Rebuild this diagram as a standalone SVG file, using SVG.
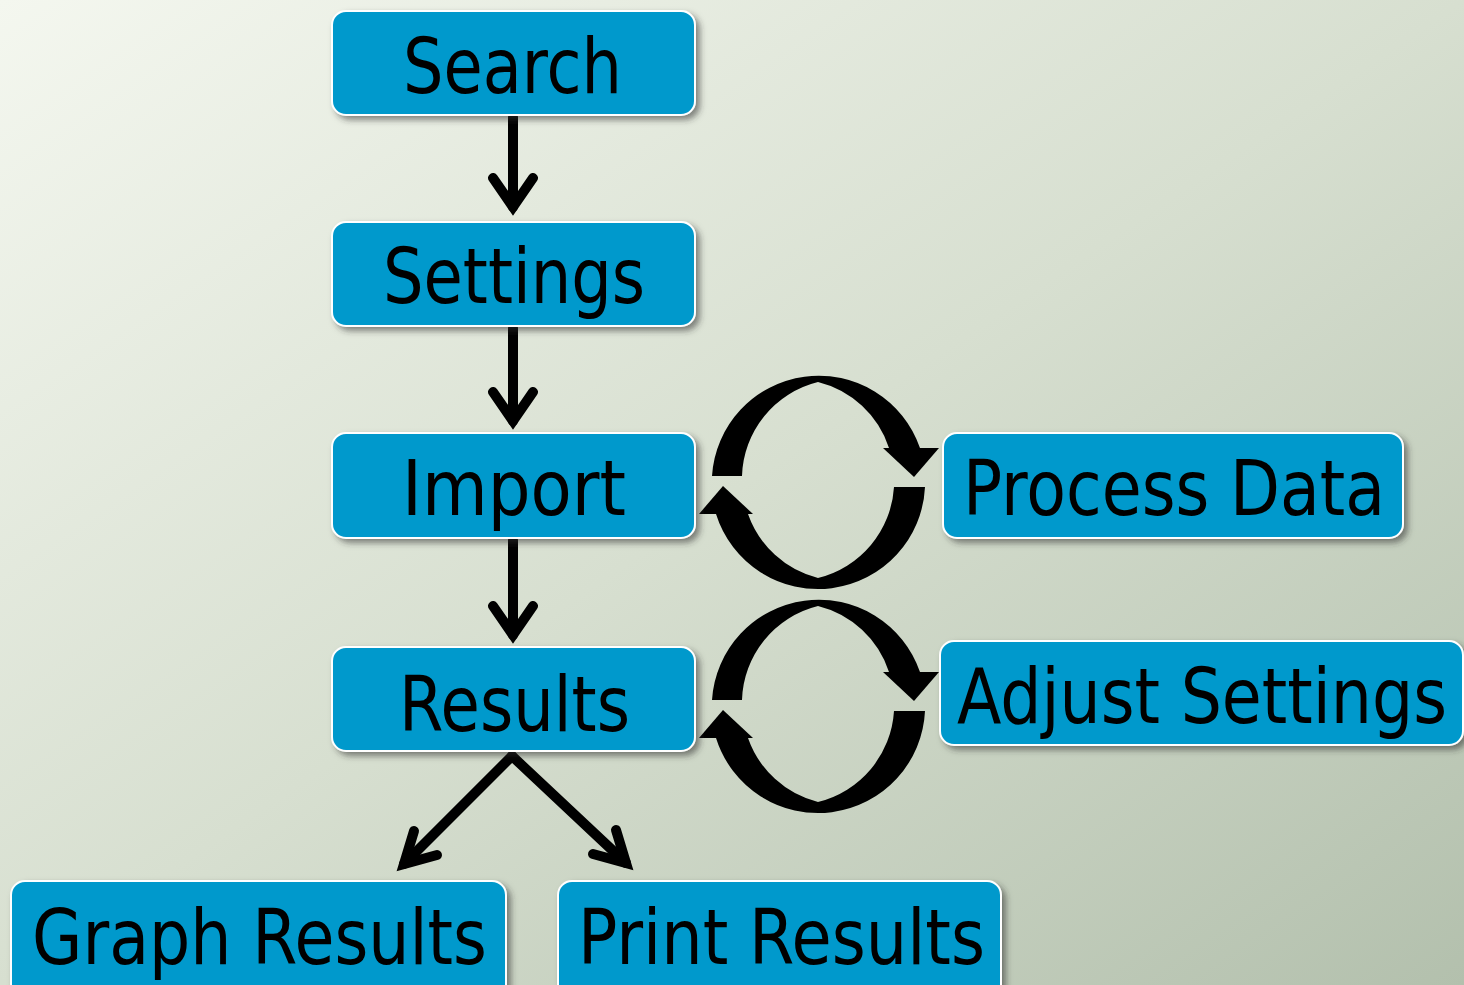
<svg xmlns="http://www.w3.org/2000/svg" width="1464" height="985" viewBox="0 0 1464 985">
<defs>
<linearGradient id="bg" x1="0" y1="0" x2="1" y2="1">
<stop offset="0" stop-color="#f4f7ef"/>
<stop offset="0.5" stop-color="#d7dfd0"/>
<stop offset="1" stop-color="#b3c0ad"/>
</linearGradient>
<filter id="sh" x="-10%" y="-20%" width="120%" height="150%">
<feDropShadow dx="4" dy="4" stdDeviation="3" flood-color="#333" flood-opacity="0.55"/>
</filter>
<g id="cycle">
<path d="M 712 476 A 107 107 0 0 1 920 448 L 889 448 A 100 100 0 0 0 818 382 A 100 100 0 0 0 742 476 Z"/>
<polygon points="883,448 939,448 914,477"/>
<path d="M 925 487 A 107 107 0 0 1 716 514 L 748 514 A 100 100 0 0 0 818 578 A 100 100 0 0 0 894 487 Z"/>
<polygon points="699,514 753,514 723,486"/>
</g>
</defs>
<style>
.box{fill:#0099cc;stroke:#ffffff;stroke-width:2;filter:url(#sh)}
.lbl{font-family:"DejaVu Sans","Liberation Sans",sans-serif;font-size:76px;fill:#000;text-anchor:start}
.ln{fill:none;stroke:#000;stroke-width:10;stroke-linecap:round;stroke-linejoin:miter;stroke-miterlimit:10}
</style>
<rect width="1464" height="985" fill="url(#bg)"/>
<g id="connectors">
<path class="ln" d="M513 117 V207"/><path class="ln" d="M493 178 L513 207 L533 178"/>
<path class="ln" d="M513 328 V421"/><path class="ln" d="M493 392 L513 421 L533 392"/>
<path class="ln" d="M513 540 V635"/><path class="ln" d="M493 606 L513 635 L533 606"/>
<path class="ln" d="M512 756 L404 864"/><path class="ln" d="M414 831 L404 864 L437 855"/>
<path class="ln" d="M512 756 L626 863"/><path class="ln" d="M616 830 L626 863 L593 854"/>
<use href="#cycle"/>
<use href="#cycle" transform="translate(0,224)"/>
</g>
<g id="search"><rect class="box" x="332" y="11" width="363" height="104" rx="14"/><text class="lbl" x="403" y="93" textLength="219" lengthAdjust="spacingAndGlyphs">Search</text></g>
<g id="settings"><rect class="box" x="332" y="222" width="363" height="104" rx="14"/><text class="lbl" x="383" y="303" textLength="262" lengthAdjust="spacingAndGlyphs">Settings</text></g>
<g id="import"><rect class="box" x="332" y="433" width="363" height="105" rx="14"/><text class="lbl" x="402" y="515" textLength="224" lengthAdjust="spacingAndGlyphs">Import</text></g>
<g id="results"><rect class="box" x="332" y="647" width="363" height="104" rx="14"/><text class="lbl" x="399" y="731" textLength="231" lengthAdjust="spacingAndGlyphs">Results</text></g>
<g id="process-data"><rect class="box" x="943" y="433" width="460" height="105" rx="14"/><text class="lbl" x="963" y="515" textLength="422" lengthAdjust="spacingAndGlyphs">Process Data</text></g>
<g id="adjust-settings"><rect class="box" x="940" y="641" width="523" height="104" rx="14"/><text class="lbl" x="957" y="723" textLength="490" lengthAdjust="spacingAndGlyphs">Adjust Settings</text></g>
<g id="graph-results"><rect class="box" x="11" y="881" width="495" height="120" rx="14"/><text class="lbl" x="32" y="964" textLength="455" lengthAdjust="spacingAndGlyphs">Graph Results</text></g>
<g id="print-results"><rect class="box" x="558" y="881" width="443" height="120" rx="14"/><text class="lbl" x="578" y="964" textLength="407" lengthAdjust="spacingAndGlyphs">Print Results</text></g>
</svg>
